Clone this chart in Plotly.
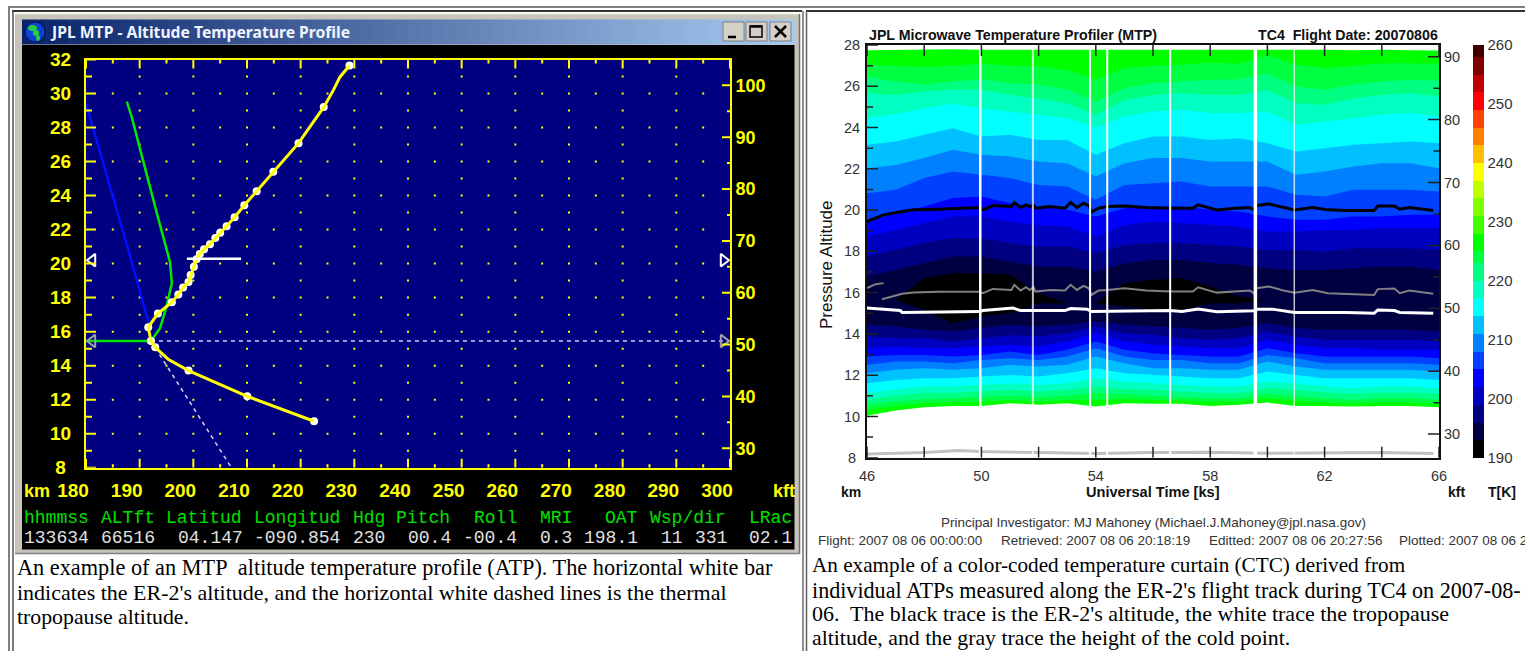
import plotly.graph_objects as go

W, H = 1525, 651

# ---------- left panel data: altitude temperature profile ----------
ATP_T = [229.1, 227.3, 226.1, 224.3, 219.6, 214.9, 211.8, 209.5, 207.7, 206.2, 205.0, 204.1, 203.1, 202.0, 201.2,
         200.6, 200.1, 199.5, 199.1, 198.1, 197.2, 196.0, 193.4, 191.6, 192.1, 192.9, 195.3, 199.1, 210.05, 222.5]
ATP_Z = [31.65, 30.96, 30.2, 29.2, 27.08, 25.4, 24.26, 23.43, 22.73, 22.2, 21.82, 21.51, 21.14, 20.85, 20.57,
         20.26, 19.82, 19.33, 18.92, 18.6, 18.18, 17.73, 17.06, 16.26, 15.45, 15.08, 14.38, 13.71, 12.2, 10.73]
ATP_DOT_T = [229.1, 224.3, 219.6, 214.9, 211.8, 209.5, 207.7, 206.2, 205.0, 204.1, 203.1, 202.0, 201.2,
             200.6, 200.1, 199.5, 199.1, 198.1, 197.2, 196.0, 193.4, 191.6, 192.1, 192.9, 199.1, 210.05, 222.5]
ATP_DOT_Z = [31.65, 29.2, 27.08, 25.4, 24.26, 23.43, 22.73, 22.2, 21.82, 21.51, 21.14, 20.85, 20.57,
             20.26, 19.82, 19.33, 18.92, 18.6, 18.18, 17.73, 17.06, 16.26, 15.45, 15.08, 13.71, 12.2, 10.73]
BLUE_T = [180.0, 185.1, 187.9, 191.6, 192.1]
BLUE_Z = [29.4, 23.94, 20.8, 16.6, 15.45]
GREEN_T = [187.6, 188.5, 190.1, 191.6, 193.2, 194.7, 195.65, 196.0, 195.0, 193.8, 192.1, 180.0]
GREEN_Z = [29.53, 28.65, 26.7, 24.82, 22.97, 21.2, 20.1, 18.85, 17.47, 16.2, 15.45, 15.45]
ACFT_BAR_T = [198.8, 208.9]
ACFT_BAR_Z = [20.29, 20.29]
TROP_T = [192.1, 300.0]
TROP_Z = [15.45, 15.45]
ADIABAT_T = [192.1, 207.1]
ADIABAT_Z = [15.45, 8.0]
ACFT_ALT = 20.2
TROP_ALT = 15.45

KM_TICKS = [8, 10, 12, 14, 16, 18, 20, 22, 24, 26, 28, 30, 32]
KM_MINOR = [9, 11, 13, 15, 17, 19, 21, 23, 25, 27, 29, 31]
KM_LABELS = ["8 ", "10", "12", "14", "16", "18", "20", "22", "24", "26", "28", "30", "32"]
KFT_TICKS = [30, 40, 50, 60, 70, 80, 90, 100]
KFT_MINOR = [35, 45, 55, 65, 75, 85, 95]
T_TICKS = [180, 190, 200, 210, 220, 230, 240, 250, 260, 270, 280, 290, 300]
T_MINOR = [185, 195, 205, 215, 225, 235, 245, 255, 265, 275, 285, 295]
GRID_T_EVEN = [185, 190, 195, 200, 205, 210, 215, 220, 225, 230, 235, 240, 245, 250, 255, 260, 265, 270, 275, 280, 285, 290, 295]
GRID_Z_EVEN = [10, 12, 14, 16, 18, 20, 22, 24, 26, 28, 30]
GRID_T_ODD = [190, 200, 210, 220, 230, 240, 250, 260, 270, 280, 290]
GRID_Z_ODD = [9, 11, 13, 15, 17, 19, 21, 23, 25, 27, 29, 31]

STATUS_HEAD = ["hhmmss", "ALTft", "Latitud", "Longitud", "Hdg", "Pitch", "Roll", "MRI", "OAT", "Wsp/dir", "LRac"]
STATUS_VALS = ["133634", "66516", "04.147", "-090.854", "230", "00.4", "-00.4", "0.3", "198.1", "11", "331", "02.1"]

# ---------- right panel data: temperature curtain (isotherm heights, km) ----------
KS = [46, 47, 48, 49, 50, 51, 52, 53, 54, 55, 56, 57, 58, 59, 60, 61, 62, 63, 64, 65, 66]
KS_TICKS = [46, 48, 50, 52, 54, 56, 58, 60, 62, 64, 66]
KS_LABELS = ["46", "", "50", "", "54", "", "58", "", "62", "", "66"]
TOP_EDGE = [27.75, 27.77, 27.80, 27.80, 27.77, 27.77, 27.77, 27.77, 27.80, 27.77, 27.77, 27.80, 27.80, 27.80, 27.77, 27.77, 27.77, 27.75, 27.77, 27.75, 27.73]
BOTTOM_EDGE = [10.03, 10.29, 10.45, 10.51, 10.51, 10.64, 10.56, 10.64, 10.48, 10.64, 10.61, 10.61, 10.51, 10.56, 10.67, 10.51, 10.51, 10.48, 10.51, 10.51, 10.45]
U225 = [27.04, 26.99, 26.93, 26.99, 27.09, 26.99, 26.96, 26.80, 26.31, 26.88, 26.99, 27.04, 27.15, 27.09, 27.52, 27.04, 26.88, 26.99, 27.12, 27.12, 27.09]
L225 = [10.32, 10.51, 10.64, 10.67, 10.72, 10.80, 10.72, 10.80, 10.80, 10.83, 10.80, 10.77, 10.72, 10.72, 10.88, 10.77, 10.67, 10.64, 10.67, 10.67, 10.61]
U223 = [26.44, 26.23, 26.07, 26.23, 26.34, 26.15, 26.07, 25.83, 25.26, 25.91, 26.15, 26.23, 26.31, 26.34, 26.63, 25.99, 25.83, 26.07, 26.23, 26.31, 26.28]
L223 = [10.56, 10.72, 10.83, 10.88, 10.93, 11.00, 10.93, 11.00, 11.13, 11.05, 11.00, 10.93, 10.88, 10.88, 11.09, 11.00, 10.88, 10.80, 10.88, 10.88, 10.80]
U220 = [25.67, 25.58, 25.75, 25.83, 25.83, 25.58, 25.42, 25.18, 24.62, 25.34, 25.58, 25.67, 25.58, 25.58, 25.83, 25.18, 25.10, 25.42, 25.58, 25.67, 25.50]
L220 = [10.80, 11.00, 11.13, 11.13, 11.21, 11.29, 11.21, 11.29, 11.45, 11.32, 11.29, 11.21, 11.13, 11.13, 11.37, 11.29, 11.16, 11.09, 11.16, 11.16, 11.09]
U217 = [24.45, 24.66, 24.94, 25.15, 24.94, 24.78, 24.62, 24.45, 24.02, 24.53, 24.78, 24.86, 24.70, 24.70, 24.78, 24.13, 24.29, 24.45, 24.62, 24.70, 24.53]
L217 = [11.13, 11.32, 11.45, 11.45, 11.53, 11.61, 11.53, 11.61, 11.85, 11.69, 11.61, 11.53, 11.45, 11.45, 11.69, 11.61, 11.45, 11.37, 11.45, 11.45, 11.37]
U214 = [23.16, 23.32, 23.65, 23.97, 23.57, 23.65, 23.40, 23.40, 22.68, 23.24, 23.57, 23.57, 23.40, 23.48, 23.24, 22.84, 23.00, 23.16, 23.24, 23.32, 23.24]
L214 = [11.61, 11.77, 11.85, 11.85, 11.93, 12.01, 11.93, 12.09, 12.34, 12.09, 12.01, 11.93, 11.85, 11.85, 12.18, 12.01, 11.85, 11.85, 11.85, 11.85, 11.77]
U211 = [22.03, 22.19, 22.52, 22.92, 22.68, 22.60, 22.35, 22.27, 21.63, 22.27, 22.52, 22.52, 22.35, 22.35, 22.35, 21.71, 21.87, 22.11, 22.27, 22.27, 22.03]
L211 = [12.09, 12.26, 12.34, 12.26, 12.34, 12.50, 12.42, 12.50, 12.90, 12.58, 12.34, 12.34, 12.26, 12.26, 12.66, 12.42, 12.26, 12.26, 12.26, 12.26, 12.18]
U208 = [20.82, 20.98, 21.55, 21.87, 21.71, 21.55, 21.22, 21.14, 20.50, 21.22, 21.30, 21.38, 21.14, 21.14, 21.14, 20.74, 20.66, 20.98, 20.98, 20.98, 20.90]
L208 = [12.50, 12.66, 12.66, 12.58, 12.74, 12.82, 12.74, 12.90, 13.31, 12.90, 12.74, 12.74, 12.58, 12.58, 12.98, 12.82, 12.58, 12.58, 12.58, 12.58, 12.50]
U205 = [19.43, 19.85, 20.17, 20.58, 20.66, 20.33, 20.17, 20.01, 19.69, 20.09, 20.17, 20.17, 20.01, 19.93, 19.69, 19.53, 19.53, 19.69, 19.69, 19.77, 19.77]
L205 = [12.90, 12.98, 12.98, 12.90, 12.98, 13.15, 12.98, 13.23, 13.63, 13.23, 13.06, 12.98, 12.90, 12.90, 13.31, 13.06, 12.90, 12.90, 12.90, 12.90, 12.82]
U202 = [18.72, 19.04, 19.36, 19.69, 19.69, 19.45, 19.28, 19.20, 18.72, 19.28, 19.45, 19.36, 19.28, 19.20, 18.96, 18.96, 19.04, 19.04, 19.12, 19.12, 19.12]
L202 = [13.31, 13.39, 13.31, 13.31, 13.39, 13.47, 13.39, 13.63, 14.03, 13.63, 13.47, 13.39, 13.31, 13.31, 13.71, 13.47, 13.31, 13.31, 13.23, 13.23, 13.23]
U199 = [17.75, 18.07, 18.40, 18.64, 18.64, 18.40, 18.23, 18.23, 17.91, 18.31, 18.40, 18.40, 18.31, 18.23, 18.07, 18.07, 17.99, 18.15, 18.15, 18.15, 18.07]
L199 = [13.87, 13.79, 13.79, 13.63, 13.79, 13.95, 13.87, 14.03, 14.36, 14.03, 13.95, 13.79, 13.71, 13.79, 14.11, 13.87, 13.71, 13.71, 13.71, 13.71, 13.63]
U196 = [16.78, 17.10, 17.43, 17.75, 17.75, 17.51, 17.26, 17.26, 17.02, 17.43, 17.59, 17.59, 17.43, 17.35, 17.18, 17.10, 17.10, 17.18, 17.26, 17.26, 17.10]
L196 = [14.44, 14.36, 14.20, 14.11, 14.28, 14.44, 14.36, 14.44, 14.60, 14.44, 14.36, 14.28, 14.20, 14.28, 14.52, 14.28, 14.20, 14.20, 14.20, 14.20, 14.11]
U193 = [15.65, 15.65, 16.70, 16.94, 16.94, 16.86, 15.97, 15.49, 15.49, 16.46, 16.62, 16.70, 16.30, 15.81, 15.65, 15.49, 15.49, 15.49, 15.49, 15.49, 15.49]
L193 = [15.65, 15.65, 15.17, 14.52, 14.84, 15.00, 15.49, 15.49, 15.49, 15.33, 15.17, 15.17, 15.49, 15.49, 15.65, 15.49, 15.49, 15.49, 15.49, 15.49, 15.49]

ISO_UPPER = [TOP_EDGE, U225, U223, U220, U217, U214, U211, U208, U205, U202, U199, U196, U193]
ISO_LOWER = [BOTTOM_EDGE, L225, L223, L220, L217, L214, L211, L208, L205, L202, L199, L196, L193]
ISO_COLORS = ["#00ff00", "#00ff40", "#00ff80", "#00ffc0", "#00ffff", "#00c0ff", "#0080ff", "#0040ff",
              "#0000ff", "#0000c0", "#000080", "#000040", "#000000"]

FLIGHT_KS = [46.0, 46.58, 47.23, 47.62, 48.52, 49.95, 50.05, 50.40, 51.05, 51.15, 51.37, 51.56, 51.69, 51.82, 51.89,
             52.41, 52.92, 53.12, 53.34, 53.57, 53.76, 53.85, 54.09, 54.40, 54.99, 55.77, 56.61, 57.39, 57.58, 58.23,
             58.88, 59.39, 59.52, 59.63, 60.04, 60.56, 60.95, 61.59, 62.11, 62.76, 63.73, 63.86, 64.44, 64.63, 64.96, 65.80]
ER2_ALT = [19.45, 19.77, 19.93, 20.01, 20.04, 20.12, 20.01, 20.22, 20.17, 20.37, 20.12, 20.25, 20.17, 20.25, 20.09,
           20.17, 20.09, 20.37, 20.12, 20.33, 20.22, 19.90, 20.09, 20.17, 20.20, 20.12, 20.09, 20.09, 20.25, 20.01,
           20.09, 20.12, 20.01, 20.22, 20.30, 20.12, 20.01, 20.12, 20.01, 19.98, 19.98, 20.20, 20.20, 20.04, 20.12, 19.98]
COLD_KS = [46.0, 46.3, 46.58, None, 46.52, 47.23, 47.62, 48.52, 49.95, 50.05, 50.40, 51.05, 51.15, 51.37, 51.56, 51.69, 51.82, 51.89,
           52.41, 52.92, 53.12, 53.34, 53.57, 53.76, 53.85, 54.09, 54.40, 54.99, 55.77, 56.61, 57.39, 57.58, 58.23,
           58.88, 59.39, 59.52, 59.63, 60.04, 60.56, 60.95, 61.59, 62.11, 62.76, 63.73, 63.86, 64.44, 64.63, 64.96, 65.80]
COLD_ALT = [16.22, 16.41, 16.46, None, 15.68, 15.94, 16.0, 16.04, 16.04, 15.97, 16.18, 16.13, 16.38, 16.10, 16.26, 16.13, 16.26, 16.05,
            16.13, 16.10, 16.38, 16.13, 16.33, 16.21, 15.89, 16.10, 16.13, 16.21, 16.10, 16.05, 16.05, 16.26, 16.0,
            16.05, 16.10, 15.97, 16.21, 16.30, 16.10, 16.0, 16.13, 15.97, 15.94, 15.89, 16.17, 16.2, 15.97, 16.10, 15.94]
TROPO_KS = [46.0, 47.16, 47.23, 49.95, 50.05, 51.11, 51.37, 51.89, 52.92, 53.12, 53.70, 53.85, 56.59, 57.01, 57.58, 58.23,
            59.52, 59.63, 60.17, 60.95, 62.76, 63.73, 63.86, 64.44, 64.63, 65.80]
TROPO_ALT = [15.25, 15.13, 15.04, 15.08, 15.13, 15.25, 15.13, 15.13, 15.13, 15.23, 15.20, 15.08, 15.13, 15.08, 15.20, 15.07,
             15.12, 15.20, 15.20, 15.04, 15.04, 15.00, 15.16, 15.13, 15.04, 15.00]
BASE_KS = [46, 48, 49.2, 50, 52, 54, 56, 58, 60, 62, 64, 65.8]
BASE_ALT = [8.18, 8.25, 8.35, 8.30, 8.25, 8.20, 8.25, 8.27, 8.22, 8.22, 8.25, 8.20]
GAP_KS = [49.96, 51.80, 53.80, 54.40, 56.60, 59.58, 60.94]
GAP_WIDTH = [2.5, 2, 2, 2, 2, 3.5, 1.5]
GAP_COLOR = ["#ffffff", "rgba(255,255,255,0.75)", "#ffffff", "#ffffff", "#ffffff", "#ffffff", "rgba(255,255,255,0.75)"]

CB_EDGES = [190, 193, 196, 199, 202, 205, 208, 211, 214, 217, 220, 223, 225, 228, 231, 234, 237, 240, 243, 246, 249, 252, 255, 258, 260]
CB_COLORS = ["#000000", "#000040", "#000080", "#0000c0", "#0000ff", "#0040ff", "#0080ff", "#00c0ff", "#00ffff", "#00ffc0",
             "#00ff80", "#00ff40", "#00ff00", "#40ff00", "#80ff00", "#c0ff00", "#ffff00", "#ffc000", "#ff8000", "#ff4000",
             "#ff0000", "#c00000", "#800000", "#400000"]
CB_TICKS = [190, 200, 210, 220, 230, 240, 250, 260]

CAP_LEFT = ["An example of an MTP  altitude temperature profile (ATP). The horizontal white bar",
            "indicates the ER-2's altitude, and the horizontal white dashed lines is the thermal",
            "tropopause altitude."]
CAP_RIGHT = ["An example of a color-coded temperature curtain (CTC) derived from",
             "individual ATPs measured along the ER-2's flight track during TC4 on 2007-08-",
             "06.  The black trace is the ER-2's altitude, the white trace the tropopause",
             "altitude, and the gray trace the height of the cold point."]
STAMPS = ["Flight: 2007 08 06 00:00:00", "Retrieved: 2007 08 06 20:18:19", "Editted: 2007 08 06 20:27:56", "Plotted: 2007 08 06 2"]

KM_TO_KFT = 3.28084


def px(x):
    return x / W


def py(y):
    return 1 - y / H


shapes, annots = [], []


def rect(x0, y0, x1, y1, fill, line=None, lw=0, layer="below"):
    shapes.append(dict(type="rect", xref="paper", yref="paper", x0=px(x0), x1=px(x1), y0=py(y0), y1=py(y1),
                       fillcolor=fill, line=dict(color=line or fill, width=lw), layer=layer))


def seg(x0, y0, x1, y1, color, lw=1, layer="below"):
    shapes.append(dict(type="line", xref="paper", yref="paper", x0=px(x0), x1=px(x1), y0=py(y0), y1=py(y1),
                       line=dict(color=color, width=lw), layer=layer))


def text(x, y, s, size, color="#000", family="Liberation Sans", anchor="left", bold=False, angle=0):
    annots.append(dict(xref="paper", yref="paper", x=px(x), y=py(y), text=f"<b>{s}</b>" if bold else s, showarrow=False,
                       xanchor=anchor, yanchor="middle", textangle=angle, borderpad=0,
                       font=dict(size=size, color=color, family=family)))


# ---- page table borders
seg(8, 7, W, 7, "#808080", 2)
seg(12, 11, 802, 11, "#333333", 2)
seg(806, 11, W, 11, "#333333", 2)
seg(9, 7, 9, H, "#808080", 2)
seg(13, 11, 13, H, "#505050", 1.5)
seg(803, 11, 803, H, "#909090", 2)
seg(806.5, 11, 806.5, H, "#606060", 1.5)

# ---- application window
rect(15, 14, 800, 554, "#c8c4bc")
seg(15, 14, 800, 14, "#e8e6e0", 1)
seg(799.5, 14, 799.5, 554, "#707070", 1.5)
seg(15, 553.5, 800, 553.5, "#808080", 1.5)
rect(22, 45, 794.5, 549.5, "#000000")
N_GRAD = 64
for i in range(N_GRAD):
    f = i / (N_GRAD - 1)
    c = "rgb(%d,%d,%d)" % (10 + f * 156, 36 + f * 166, 106 + f * 134)
    rect(22 + (772.5 * i / N_GRAD), 19.5, 22 + (772.5 * (i + 1) / N_GRAD) + 0.5, 44.5, c)
# globe icon
shapes.append(dict(type="circle", xref="paper", yref="paper", x0=px(25), x1=px(45), y0=py(42), y1=py(22),
                   fillcolor="#1040d8", line=dict(color="#001060", width=1), layer="below"))
for (x0, y0, x1, y1) in [(28, 25, 37, 31), (33, 30, 39, 36), (36, 35, 40, 41)]:
    shapes.append(dict(type="circle", xref="paper", yref="paper", x0=px(x0), x1=px(x1), y0=py(y1), y1=py(y0),
                       fillcolor="#20d040", line=dict(width=0), layer="below"))
# window buttons
for (x0, x1) in [(723, 744), (746, 767), (770, 791)]:
    rect(x0, 22, x1, 41, "#d4d0c8", "#808080", 1)
seg(728, 37, 736, 37, "#000", 2.5)
rect(750, 26, 762, 37, "rgba(0,0,0,0)", "#000", 1.5)
seg(750, 26.5, 762, 26.5, "#000", 2.5)
seg(775, 26, 786, 37, "#000", 2.5)
seg(786, 26, 775, 37, "#000", 2.5)
text(49, 32, "JPL MTP - Altitude Temperature Profile", 15.7, "#f0f4ff", "Noto Sans", bold=True)

# ---- plot backgrounds
L_X0, L_X1, L_Y0, L_Y1 = 86, 730, 59.5, 467.7
R_X0, R_X1, R_Y0, R_Y1 = 867, 1439, 45, 457.7
rect(L_X0, L_Y0, L_X1, L_Y1, "#000080")

# ---- status lines and labels
YEL = "#ffff00"
text(23, 490.7, "km", 18, YEL, bold=True)
text(772, 490.7, "kft", 18, YEL, bold=True)
for s, x in zip(STATUS_HEAD, [23, 100, 165, 253, 352, 395, 473, 539, 604, 649, 748]):
    text(x, 518, s, 18, "#00e000", "Liberation Mono")
for s, x in zip(STATUS_VALS, [23, 100, 177, 253, 352, 407, 462, 539, 583, 660, 694, 748]):
    text(x, 538, s, 18, "#e0e0e0", "Liberation Mono")

# ---- captions
for s, y, z in zip(CAP_LEFT, [567, 592, 617], [22.3, 22, 21.8]):
    text(16, y, s, z, "#000", "Liberation Serif")
for s, y, z in zip(CAP_RIGHT, [565, 590, 613, 638], [21.2, 22.1, 22, 21.8]):
    text(811, y, s, z, "#000", "Liberation Serif")

# ---- right panel texts
DK = "#333333"
text(868, 35, "JPL Microwave Temperature Profiler (MTP)", 14.2, "#111", bold=True)
text(1439, 35, "TC4  Flight Date: 20070806", 14.2, "#111", anchor="right", bold=True)
text(826, 265, "Pressure Altitude", 17, "#111", angle=-90, anchor="center")
text(851, 492, "km", 14, "#111", bold=True, anchor="center")
text(1153, 492, "Universal Time [ks]", 14.6, "#111", bold=True, anchor="center")
text(1456, 492, "kft", 14, "#111", bold=True, anchor="center")
text(1502, 492, "T[K]", 14, "#111", bold=True, anchor="center")
text(1153, 522, "Principal Investigator: MJ Mahoney (Michael.J.Mahoney@jpl.nasa.gov)", 13.5, DK, anchor="center")
for s, x in zip(STAMPS, [817, 1000, 1208, 1398]):
    text(x, 540, s, 13.5, DK)

fig = go.Figure()

# ---- left panel traces
dots_t, dots_z = [], []
for z in GRID_Z_EVEN:
    for t in GRID_T_EVEN:
        dots_t.append(t)
        dots_z.append(z)
for z in GRID_Z_ODD:
    for t in GRID_T_ODD:
        dots_t.append(t)
        dots_z.append(z)
fig.add_trace(go.Scatter(x=dots_t, y=dots_z, mode="markers", marker=dict(color=YEL, size=2, symbol="square"), xaxis="x", yaxis="y"))
fig.add_trace(go.Scatter(x=BLUE_T, y=BLUE_Z, mode="lines", line=dict(color="#0010ff", width=2.5), xaxis="x", yaxis="y"))
fig.add_trace(go.Scatter(x=GREEN_T, y=GREEN_Z, mode="lines", line=dict(color="#00e800", width=2.5), xaxis="x", yaxis="y"))
fig.add_trace(go.Scatter(x=TROP_T, y=TROP_Z, mode="lines", line=dict(color="#d0d0f0", width=1.5, dash="4px,4px"), xaxis="x", yaxis="y"))
fig.add_trace(go.Scatter(x=ADIABAT_T, y=ADIABAT_Z, mode="lines", line=dict(color="#d0d0f0", width=1.5, dash="4px,4px"), xaxis="x", yaxis="y"))
fig.add_trace(go.Scatter(x=ATP_DOT_T, y=ATP_DOT_Z, mode="markers", marker=dict(color="#ffffff", size=8), xaxis="x", yaxis="y"))
fig.add_trace(go.Scatter(x=ATP_T, y=ATP_Z, mode="lines", line=dict(color="#ffff00", width=3), xaxis="x", yaxis="y"))
fig.add_trace(go.Scatter(x=ACFT_BAR_T, y=ACFT_BAR_Z, mode="lines", line=dict(color="#ffffff", width=2.5), xaxis="x", yaxis="y"))
fig.add_trace(go.Scatter(x=[181.2], y=[ACFT_ALT], mode="markers", marker=dict(symbol="triangle-left-open", size=11, color="#ffffff", line=dict(width=2, color="#ffffff")), xaxis="x", yaxis="y"))
fig.add_trace(go.Scatter(x=[298.8], y=[ACFT_ALT], mode="markers", marker=dict(symbol="triangle-right-open", size=11, color="#ffffff", line=dict(width=2, color="#ffffff")), xaxis="x", yaxis="y"))
fig.add_trace(go.Scatter(x=[181.2], y=[TROP_ALT], mode="markers", marker=dict(symbol="triangle-left-open", size=11, color="#a0a0a0", line=dict(width=2, color="#a0a0a0")), xaxis="x", yaxis="y"))
fig.add_trace(go.Scatter(x=[298.8], y=[TROP_ALT], mode="markers", marker=dict(symbol="triangle-right-open", size=11, color="#a0a0a0", line=dict(width=2, color="#a0a0a0")), xaxis="x", yaxis="y"))

# ---- right panel traces: nested isotherm polygons
for upper, lower, color in zip(ISO_UPPER, ISO_LOWER, ISO_COLORS):
    fig.add_trace(go.Scatter(x=KS + KS[::-1], y=upper + lower[::-1], mode="lines", fill="toself", fillcolor=color,
                             line=dict(width=0, color=color), xaxis="x2", yaxis="y3"))
fig.add_trace(go.Scatter(x=BASE_KS, y=BASE_ALT, mode="lines", line=dict(color="#c0c0c0", width=3), xaxis="x2", yaxis="y3"))
fig.add_trace(go.Scatter(x=COLD_KS, y=COLD_ALT, mode="lines", line=dict(color="#808080", width=2), xaxis="x2", yaxis="y3"))
fig.add_trace(go.Scatter(x=TROPO_KS, y=TROPO_ALT, mode="lines", line=dict(color="#ffffff", width=3), xaxis="x2", yaxis="y3"))
fig.add_trace(go.Scatter(x=FLIGHT_KS, y=ER2_ALT, mode="lines", line=dict(color="#000000", width=3), xaxis="x2", yaxis="y3"))
for g, w, c in zip(GAP_KS, GAP_WIDTH, GAP_COLOR):
    fig.add_trace(go.Scatter(x=[g, g], y=[8.1, 27.95], mode="lines", line=dict(color=c, width=w), xaxis="x2", yaxis="y3"))


# ---- tick marks, laid out on the axes' own data scales
def ticks_x(vals, y_from, y_to, color, lw, xa, ya):
    xs, ys = [], []
    for v in vals:
        xs += [v, v, None]
        ys += [y_from, y_to, None]
    fig.add_trace(go.Scatter(x=xs, y=ys, mode="lines", line=dict(color=color, width=lw), xaxis=xa, yaxis=ya))


def ticks_y(vals, x_from, x_to, color, lw, xa, ya):
    xs, ys = [], []
    for v in vals:
        xs += [x_from, x_to, None]
        ys += [v, v, None]
    fig.add_trace(go.Scatter(x=xs, y=ys, mode="lines", line=dict(color=color, width=lw), xaxis=xa, yaxis=ya))


LK = (L_X1 - L_X0) / 120  # px per K
LZ = (L_Y1 - L_Y0) / 24   # px per km
RS = (R_X1 - R_X0) / 20   # px per ks
RZ = (R_Y1 - R_Y0) / 20   # px per km
for lo, hi, ln_maj, ln_min in [(8, 1, 9 / LZ, 3.5 / LZ), (32, -1, 9 / LZ, 4 / LZ)]:
    ticks_x(T_TICKS, lo, lo + hi * ln_maj, YEL, 2, "x", "y")
    ticks_x(T_MINOR, lo, lo + hi * ln_min, YEL, 2, "x", "y")
ticks_y(KM_TICKS, 180, 180 + 10 / LK, YEL, 2, "x", "y")
ticks_y(KM_MINOR, 180, 180 + 6 / LK, YEL, 2, "x", "y")
ticks_y(KFT_TICKS, 300, 300 - 8 / LK, YEL, 2, "x", "y2")
ticks_y(KFT_MINOR, 300, 300 - 3 / LK, YEL, 2, "x", "y2")
ticks_x(KS_TICKS, 8, 8 + 11 / RZ, "#222222", 1.5, "x2", "y3")
ticks_x(KS_TICKS, 28, 28 - 11 / RZ, "#222222", 1.5, "x2", "y3")
ticks_y(KM_TICKS[:-2], 46, 46 + 11 / RS, "#222222", 1.5, "x2", "y3")
ticks_y(KM_MINOR[:-2], 46, 46 + 6 / RS, "#222222", 1.5, "x2", "y3")
ticks_y(KFT_TICKS[:-1], 66, 66 - 11 / RS, "#222222", 1.5, "x2", "y4")
ticks_y(KFT_MINOR[:-1], 66, 66 - 5.5 / RS, "#222222", 1.5, "x2", "y4")

# ---- colour bar through a stepped colour scale
span = CB_EDGES[-1] - CB_EDGES[0]
cscale = []
for i, c in enumerate(CB_COLORS):
    cscale.append([(CB_EDGES[i] - CB_EDGES[0]) / span, c])
    cscale.append([(CB_EDGES[i + 1] - CB_EDGES[0]) / span, c])
fig.add_trace(go.Scatter(
    x=[46, 46], y=[8, 8], mode="markers", xaxis="x2", yaxis="y3",
    marker=dict(size=1, opacity=0, color=[CB_EDGES[0], CB_EDGES[-1]], cmin=CB_EDGES[0], cmax=CB_EDGES[-1], colorscale=cscale,
                showscale=True,
                colorbar=dict(x=px(1473), xanchor="left", xpad=0, ypad=0, thickness=11, thicknessmode="pixels",
                              len=(R_Y1 - R_Y0) / H, lenmode="fraction", y=py((R_Y0 + R_Y1) / 2), yanchor="middle",
                              outlinewidth=0, ticks="", tickvals=CB_TICKS, tickfont=dict(size=15, color=DK, family="Liberation Sans")))))

AX_L = dict(color=YEL, linecolor=YEL, linewidth=2, ticks="", showgrid=False, zeroline=False, fixedrange=True)
AX_R = dict(color=DK, linecolor="#111", linewidth=2, ticks="", showgrid=False, zeroline=False, fixedrange=True)
FONT_L = dict(size=19, color=YEL, family="Liberation Sans", weight="bold")
FONT_R = dict(size=14.5, color=DK, family="Liberation Sans")

fig.update_layout(
    width=W, height=H, autosize=False, margin=dict(l=0, r=0, t=0, b=0, pad=0, autoexpand=False), paper_bgcolor="#ffffff", plot_bgcolor="rgba(0,0,0,0)",
    showlegend=False, hovermode=False, shapes=shapes, annotations=annots,
    xaxis=dict(domain=[px(L_X0), px(L_X1)], range=[180, 300], anchor="y", tickvals=T_TICKS, mirror=True,
               tickfont=FONT_L, ticklabelshift=-13, ticklabelstandoff=4, **AX_L),
    yaxis=dict(domain=[py(L_Y1), py(L_Y0)], range=[8, 32], anchor="x", tickvals=KM_TICKS, ticktext=KM_LABELS,
               tickfont=FONT_L, ticklabelstandoff=9, **AX_L),
    yaxis2=dict(domain=[py(L_Y1), py(L_Y0)], range=[8 * KM_TO_KFT, 32 * KM_TO_KFT], anchor="x", overlaying="y", side="right",
                tickvals=KFT_TICKS, tickfont=dict(FONT_L, size=18), **AX_L),
    xaxis2=dict(domain=[px(R_X0), px(R_X1)], range=[46, 66], anchor="y3", tickvals=KS_TICKS, ticktext=KS_LABELS, mirror=True,
                tickfont=FONT_R, ticklabelstandoff=4, **AX_R),
    yaxis3=dict(domain=[py(R_Y1), py(R_Y0)], range=[8, 28], anchor="x2", tickvals=KM_TICKS[:-2],
                ticktext=KM_LABELS[:-2], tickfont=FONT_R, ticklabelstandoff=2, **AX_R),
    yaxis4=dict(domain=[py(R_Y1), py(R_Y0)], range=[8 * KM_TO_KFT, 28 * KM_TO_KFT], anchor="x2", overlaying="y3", side="right",
                tickvals=KFT_TICKS[:-1], tickfont=FONT_R, **AX_R),
)

fig.write_html("out.html", config=dict(displayModeBar=False, responsive=False),
               post_script="document.body.style.margin='0';document.documentElement.style.overflow='hidden';")
